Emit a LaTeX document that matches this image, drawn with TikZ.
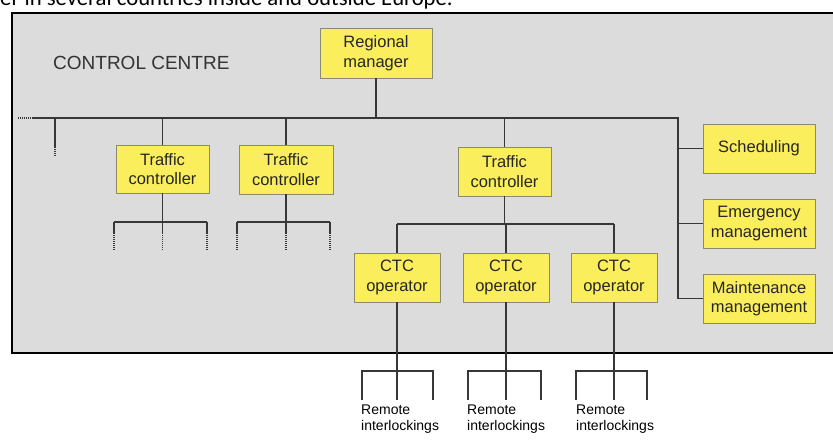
\documentclass[tikz,border=0pt]{standalone}
\usepackage{fontspec}
\setmainfont{Liberation Sans}
\newfontfamily\capfont{Carlito}
\definecolor{panelgrey}{RGB}{220,220,220}
\definecolor{boxyellow}{RGB}{251,238,92}
\definecolor{boxedge}{RGB}{140,138,110}
\definecolor{wire}{RGB}{55,55,55}
\begin{document}
\begin{tikzpicture}[x=1pt,y=-1pt,
  unit/.style={draw=boxedge, line width=0.9pt, fill=boxyellow, align=center,
    inner sep=0pt, font=\fontsize{16.5}{19.5}\selectfont, text=black!85},
  wirel/.style={draw=wire, line width=1.2pt},
  dots/.style={draw=wire, line width=1.4pt, dash pattern=on 1pt off 1pt},
  remote/.style={anchor=north west, inner sep=0pt, align=left,
    font=\fontsize{14}{16}\selectfont}]
\useasboundingbox (0,0) rectangle (833,441);
\clip (0,0) rectangle (833,441);
% clipped caption line at the top
\node[anchor=base west, inner sep=0pt, font=\capfont\fontsize{22.7}{26}\selectfont] (cap) at (0,6) {er in several countries inside and outside Europe.};
% control centre panel
\fill[panelgrey] (12,13) rectangle (845,353);
\draw[black, line width=1.2pt] (845,13) -- (12,13) -- (12,353) -- (845,353);
\node[anchor=base west, inner sep=0pt, font=\fontsize{19}{22}\selectfont, text=black!80] (cc) at (53,70) {CONTROL CENTRE};
% boxes
\node[unit, minimum width=112pt, minimum height=50pt] (rm) at (376,53) {Regional\\manager};
\node[unit, minimum width=93pt, minimum height=48pt] (tc1) at (162.5,169) {Traffic\\controller};
\node[unit, minimum width=94pt, minimum height=49pt] (tc2) at (286,169.5) {Traffic\\controller};
\node[unit, minimum width=93pt, minimum height=49pt] (tc3) at (504.5,171.5) {Traffic\\controller};
\node[unit, minimum width=86pt, minimum height=49pt] (ctc1) at (397,277.5) {CTC\\operator};
\node[unit, minimum width=86pt, minimum height=49pt] (ctc2) at (506,277.5) {CTC\\operator};
\node[unit, minimum width=86pt, minimum height=49pt] (ctc3) at (614,277.5) {CTC\\operator};
\node[unit, minimum width=112pt, minimum height=49pt] (sch) at (759,148.5) {Scheduling};
\node[unit, minimum width=112pt, minimum height=49pt] (emg) at (759,223.5) {Emergency\\management};
\node[unit, minimum width=112pt, minimum height=49pt] (mnt) at (759,298.5) {Maintenance\\management};
% bus coordinates
\coordinate (busL) at (33,118);
\coordinate (busLd) at (18,118);
\coordinate (busR) at (678,118);
\coordinate (busM) at (rm.south |- busL);
\coordinate (d0) at (55,118);
\coordinate (d0a) at (55,147);
\coordinate (d0b) at (55,156);
\coordinate (rvB) at (678,298.5);
% main bus
\draw[dots] (busLd) -- (busL);
\draw[wirel] (busL) -- (busR) -- (rvB);
\draw[wirel] (rm.south) -- (busM);
\draw[wirel] (d0) -- (d0a);
\draw[dots] (d0a) -- (d0b);
\draw[wirel] (tc1.north |- busL) -- (tc1.north);
\draw[wirel] (tc2.north |- busL) -- (tc2.north);
\draw[wirel] (tc3.north |- busL) -- (tc3.north);
\draw[wirel] (sch.west -| busR) -- (sch.west);
\draw[wirel] (emg.west -| busR) -- (emg.west);
\draw[wirel] (mnt.west -| busR) -- (mnt.west);
% fan-outs under traffic controllers 1 and 2
\foreach \n/\a/\b in {tc1/114/207, tc2/237/330}{
  \coordinate (\n j) at (\n.south |- 0,222);
  \coordinate (\n l) at (\a,222);
  \coordinate (\n r) at (\b,222);
  \draw[wirel] (\n.south) -- (\n j);
  \draw[wirel] (\n l) -- (\n r);
  \foreach \c in {\n l, \n j, \n r}{
    \draw[wirel] (\c) -- ++(0,11) coordinate (\c e);
    \draw[dots] (\c e) -- ++(0,18);
  }
}
% traffic controller 3 to CTC operators
\coordinate (tc3j) at (tc3.south |- 0,224);
\draw[wirel] (tc3.south) -- (tc3j);
\draw[wirel] (ctc1.north |- tc3j) -- (ctc3.north |- tc3j);
\foreach \n in {ctc1,ctc2,ctc3}{
  \draw[wirel] (\n.north |- tc3j) -- (\n.north);
}
% CTC operators to remote interlockings
\foreach \n/\a/\b/\t in {ctc1/362/433/361, ctc2/468/541/467, ctc3/576/647/576}{
  \coordinate (\n h) at (\n.south |- 0,371);
  \coordinate (\n l) at (\a,371);
  \coordinate (\n r) at (\b,371);
  \draw[wirel] (\n.south) -- (\n.south |- 0,400);
  \draw[wirel] (\n l |- 0,400) -- (\n l) -- (\n r) -- (\n r |- 0,400);
  \node[remote] (\n ri) at (\t,405) {Remote\\interlockings};
}
\end{tikzpicture}
\end{document}
